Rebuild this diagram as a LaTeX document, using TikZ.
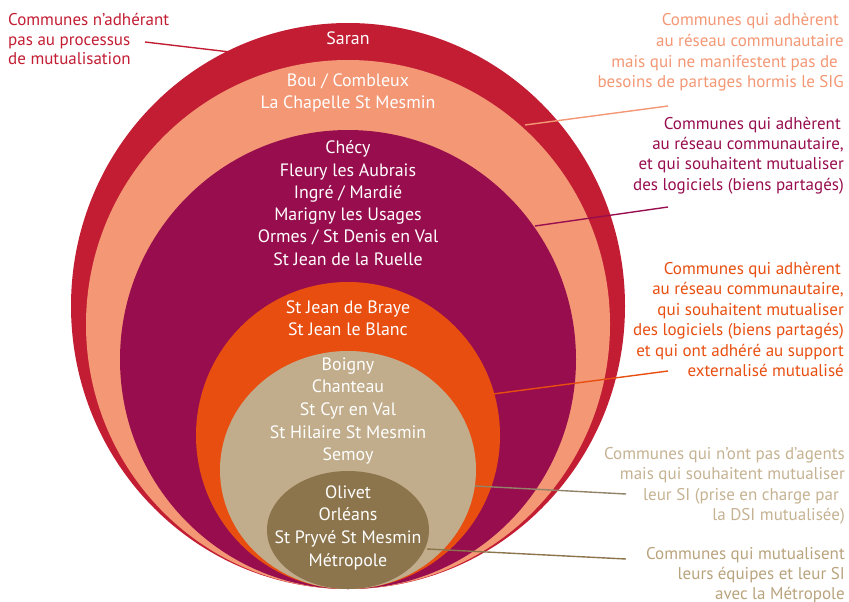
\documentclass[tikz,border=0pt]{standalone}
\usepackage{fontspec}
\setmainfont{PT Sans}
\definecolor{cred}{HTML}{C21D33}
\definecolor{csal}{HTML}{F39775}
\definecolor{cpur}{HTML}{970D4E}
\definecolor{cora}{HTML}{E84E10}
\definecolor{ctan}{HTML}{C1AD8B}
\definecolor{cbro}{HTML}{8C754C}
\definecolor{ctxttan}{HTML}{C5B292}
\definecolor{ctxtbro}{HTML}{B9A37D}
\begin{document}
\begin{tikzpicture}[x=1pt,y=-1pt,
  inner/.style={text=white,inner sep=0pt,font=\fontsize{17.9}{22}\selectfont},
  lab/.style={inner sep=0pt,font=\fontsize{17}{20}\selectfont},
  leader/.style={line width=1.4pt}]
\useasboundingbox (0,0) rectangle (849,602);
% nested discs
\fill[cred] (348,306) ellipse [x radius=277, y radius=283];
\fill[csal] (348,324.5) ellipse [x radius=262, y radius=264.5];
\fill[cpur] (348,359.5) ellipse [x radius=228, y radius=229.5];
\fill[cora] (348,435.5) ellipse [x radius=152, y radius=153.5];
\fill[ctan] (348,470) ellipse [x radius=128, y radius=119];
\fill[cbro] (348,530) ellipse [x radius=81, y radius=59];
% inner texts
\node[inner,anchor=base] (saran) at (348,45) {Saran};
\foreach \t [count=\i from 0] in {Bou / Combleux, La Chapelle St Mesmin}
  \node[inner,anchor=base] (sal\i) at (348,86.5+\i*22) {\t};
\foreach \t [count=\i from 0] in {Chécy, Fleury les Aubrais, Ingré / Mardié, Marigny les Usages, Ormes / St Denis en Val, St Jean de la Ruelle}
  \node[inner,anchor=base] (pur\i) at (348,153.8+\i*22.25) {\t};
\foreach \t [count=\i from 0] in {St Jean de Braye, St Jean le Blanc}
  \node[inner,anchor=base] (ora\i) at (348,313.3+\i*21.7) {\t};
\foreach \t [count=\i from 0] in {Boigny, Chanteau, St Cyr en Val, St Hilaire St Mesmin, Semoy}
  \node[inner,anchor=base] (tan\i) at (348,370+\i*22.7) {\t};
\foreach \t [count=\i from 0] in {Olivet, Orléans, St Pryvé St Mesmin, Métropole}
  \node[inner,anchor=base] (bro\i) at (348,498.3+\i*22.6) {\t};
% left label
\foreach \t [count=\i from 0] in {Communes n’adhérant, pas au processus, de mutualisation}
  \node[lab,text=cred,anchor=base west] (lred\i) at (8,26+\i*19.5) {\t};
% right labels
\foreach \t [count=\i from 0] in {Communes qui adhèrent\hspace*{5pt}, au réseau communautaire, mais qui ne manifestent pas de\hspace*{6pt}, besoins de partages hormis le SIG}
  \node[lab,text=csal,anchor=base east] (lsal\i) at (844,26+\i*20.5) {\t};
\foreach \t [count=\i from 0] in {Communes qui adhèrent\hspace*{3pt}, {au réseau communautaire,}, et qui souhaitent mutualiser, des logiciels (biens partagés)}
  \node[lab,text=cpur,anchor=base east] (lpur\i) at (844,129.3+\i*20.3) {\t};
\foreach \t [count=\i from 0] in {Communes qui adhèrent\hspace*{3pt}, {au réseau communautaire,}, qui souhaitent mutualiser, des logiciels (biens partagés), et qui ont adhéré au support, externalisé mutualisé}
  \node[lab,text=cora,anchor=base east] (lora\i) at (844,274+\i*20.5) {\t};
\foreach \t [count=\i from 0] in {Communes qui n’ont pas d’agents, mais qui souhaitent mutualiser, leur SI (prise en charge par\hspace*{6pt}, la DSI mutualisée)}
  \node[lab,text=ctxttan,anchor=base east] (ltan\i) at (845,459.3+\i*20.5) {\t};
\foreach \t [count=\i from 0] in {Communes qui mutualisent, leurs équipes et leur SI, avec la Métropole}
  \node[lab,text=ctxtbro,anchor=base east] (lbro\i) at (845,559+\i*20) {\t};
% leader lines
\coordinate (r1) at (145,42);  \coordinate (r2) at (230,52);
\coordinate (s1) at (668,106); \coordinate (s2) at (525,125);
\coordinate (p1) at (668,207); \coordinate (p2) at (535,226);
\coordinate (o1) at (668,371); \coordinate (o2) at (493,394);
\coordinate (t1) at (475,486); \coordinate (t2) at (626,494);
\coordinate (b1) at (427,549); \coordinate (b2) at (626,559);
\draw[leader,cred] (r1) -- (r2);
\draw[leader,csal] (s1) -- (s2);
\draw[leader,cpur] (p1) -- (p2);
\draw[leader,cora] (o1) -- (o2);
\draw[leader,ctan!75!black] (t1) -- (t2);
\draw[leader,cbro] (b1) -- (b2);
\end{tikzpicture}
\end{document}
